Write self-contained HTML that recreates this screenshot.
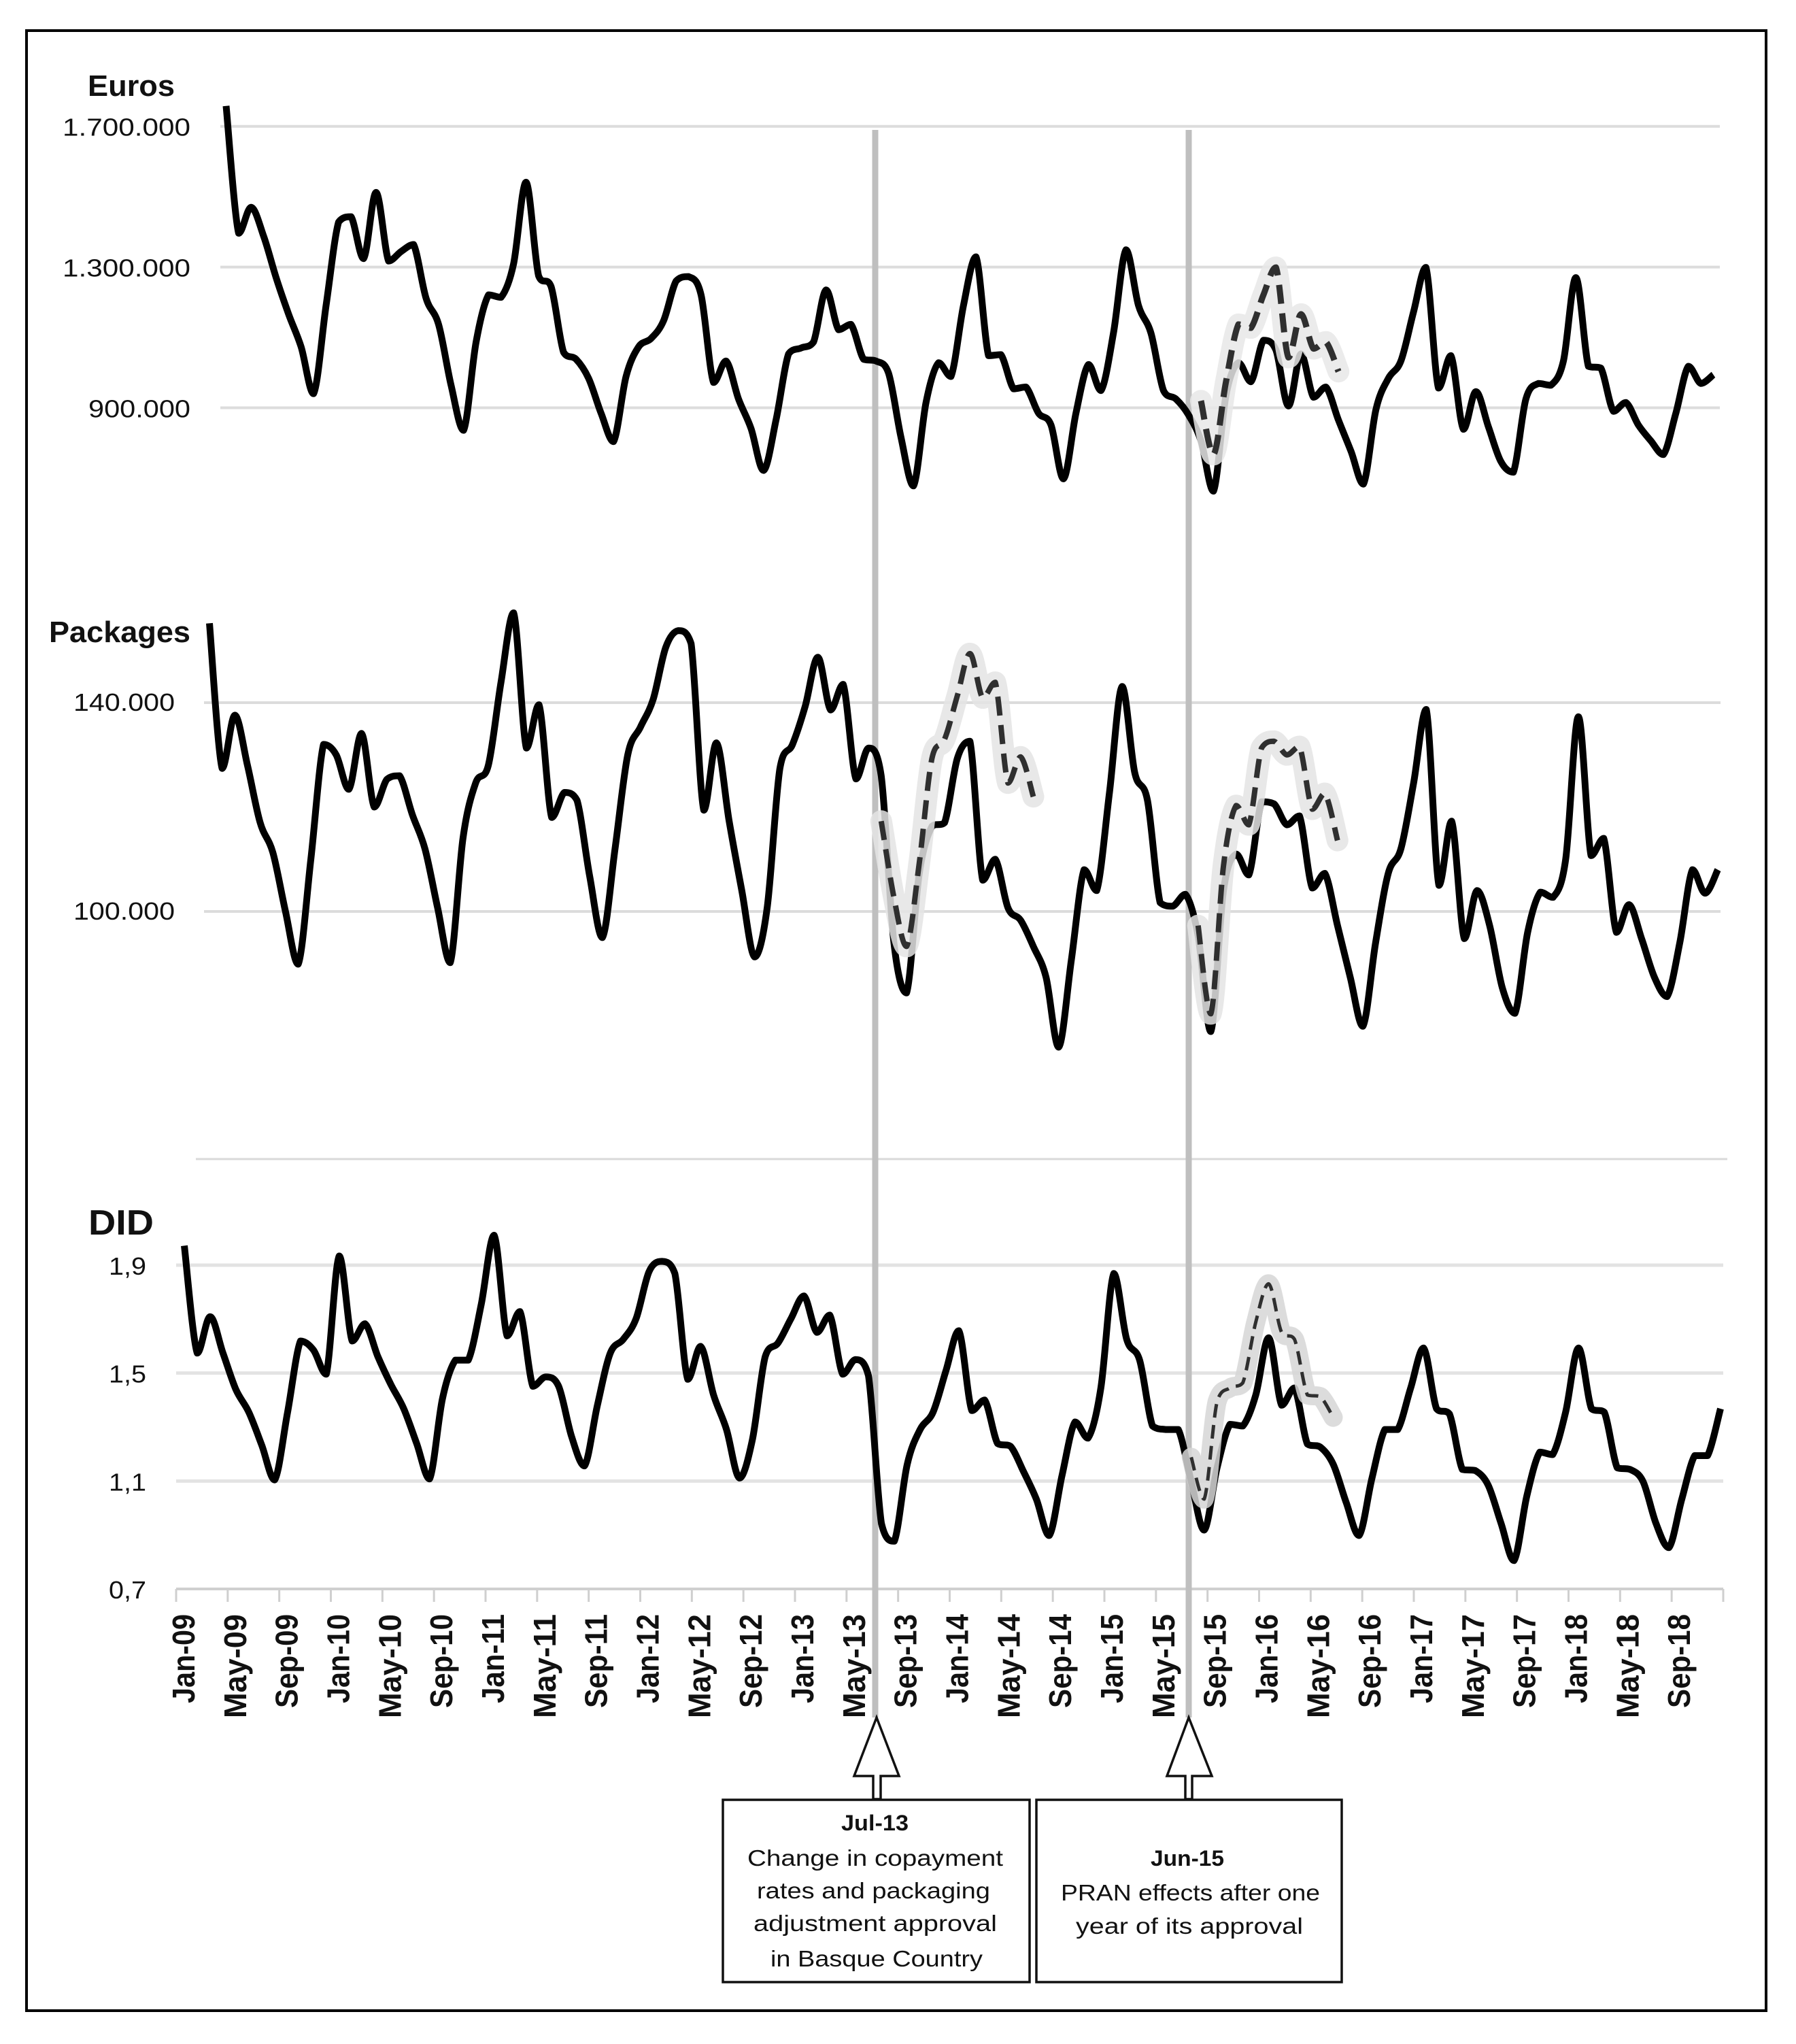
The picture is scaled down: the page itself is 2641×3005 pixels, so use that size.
<!DOCTYPE html>
<html lang="en">
<head>
<meta charset="utf-8">
<title>Euros, packages and DID monthly series, 2009-2018</title>
<style>
html,body{margin:0;padding:0;background:#fff;}
svg{display:block;}
text{font-family:"Liberation Sans",sans-serif;fill:#111;}
</style>
</head>
<body>
<svg id="chart" xmlns="http://www.w3.org/2000/svg" width="2641" height="3005" viewBox="0 0 2641 3005">
  <rect x="0" y="0" width="2641" height="3005" fill="#fff"/>
  <rect x="39" y="45" width="2558" height="2911" fill="none" stroke="#000" stroke-width="4"/>
  <g id="grid"></g>
  <line x1="288" y1="1704" x2="2540" y2="1704" stroke="#d9d9d9" stroke-width="3"/>
  <rect x="1282.5" y="191" width="9" height="2334" fill="#bfbfbf"/>
  <rect x="1743.5" y="191" width="9" height="2334" fill="#bfbfbf"/>
  <g id="series"></g>
  <g id="ylabels"></g>
  <g id="xaxis"></g>

  <text x="129" y="141" font-size="44" font-weight="700" textLength="128" lengthAdjust="spacingAndGlyphs">Euros</text>
  <text x="72" y="944" font-size="44" font-weight="700" textLength="208" lengthAdjust="spacingAndGlyphs">Packages</text>
  <text x="130" y="1815" font-size="52" font-weight="700" textLength="96" lengthAdjust="spacingAndGlyphs">DID</text>

  <path d="M1289 2525 L1322 2611 L1295 2611 L1295 2645 L1284 2645 L1284 2611 L1256 2611 Z" fill="#fff" stroke="#111" stroke-width="3.5" stroke-linejoin="miter"/>
  <path d="M1748 2525 L1782 2611 L1753 2611 L1753 2645 L1743 2645 L1743 2611 L1716 2611 Z" fill="#fff" stroke="#111" stroke-width="3.5" stroke-linejoin="miter"/>

  <g>
    <rect x="1063" y="2646" width="451" height="268" fill="#fff" stroke="#111" stroke-width="3.5"/>
    <text x="1237" y="2691" font-size="32" font-weight="700" textLength="99" lengthAdjust="spacingAndGlyphs">Jul-13</text>
    <text x="1099" y="2743" font-size="33" textLength="376" lengthAdjust="spacingAndGlyphs">Change in copayment</text>
    <text x="1113" y="2791" font-size="33" textLength="343" lengthAdjust="spacingAndGlyphs">rates and packaging</text>
    <text x="1108" y="2839" font-size="33" textLength="358" lengthAdjust="spacingAndGlyphs">adjustment approval</text>
    <text x="1133" y="2891" font-size="33" textLength="312" lengthAdjust="spacingAndGlyphs">in Basque Country</text>
  </g>
  <g>
    <rect x="1524" y="2646" width="449" height="268" fill="#fff" stroke="#111" stroke-width="3.5"/>
    <text x="1692" y="2743" font-size="32" font-weight="700" textLength="108" lengthAdjust="spacingAndGlyphs">Jun-15</text>
    <text x="1560" y="2794" font-size="33" textLength="381" lengthAdjust="spacingAndGlyphs">PRAN effects after one</text>
    <text x="1582" y="2843" font-size="33" textLength="334" lengthAdjust="spacingAndGlyphs">year of its approval</text>
  </g>
</svg>
<script>
// Monthly values, Jan-09 to Dec-18 (euros in thousands, packages in thousands, DID as read)
const euros = [
1758,1396,1470,1388,1270,1166,1073,940,1191,1428,1443,1324,
1512,1317,1344,1364,1211,1137,964,836,1087,1221,1214,1309,
1541,1275,1245,1058,1038,984,885,804,989,1073,1097,1147,
1260,1273,1221,972,1033,925,841,722,865,1053,1070,1087,
1235,1122,1137,1038,1033,999,816,678,915,1028,989,1191,
1329,1048,1051,954,959,885,851,698,885,1023,949,1112,
1349,1191,1112,949,925,880,806,663,935,1028,974,1092,
1064,905,1053,930,959,865,777,683,895,984,1033,1171,
1299,956,1048,839,946,846,747,717,925,969,964,1033,
1270,1018,1013,890,915,851,806,767,885,1018,969,994];
const packages = [
155.2,127.4,137.6,128.0,117.0,111.3,100.0,89.9,110.0,132.0,130.0,123.4,
134.1,120.0,125.3,126.0,118.6,112.0,100.7,90.2,114.0,124.6,128.0,143.9,
157.2,131.3,139.6,118.0,122.8,121.3,106.7,95.0,112.0,130.0,135.3,140.6,
150.6,153.8,151.3,119.4,132.3,117.3,104.0,91.3,100.7,127.3,132.0,139.3,
148.7,138.6,143.5,125.4,131.3,126.0,94.0,84.4,107.3,116.3,117.0,129.3,
132.6,106.0,110.0,100.7,98.3,93.3,87.4,74.0,90.7,108.0,104.0,122.6,
143.1,126.6,121.3,101.7,101.0,103.3,95.3,77.0,104.0,111.0,107.0,121.0,
120.6,116.6,118.3,104.5,107.3,97.3,87.4,78.0,94.0,107.3,112.0,124.6,
138.7,105.0,117.3,94.8,104.0,97.3,85.4,80.5,96.0,103.7,102.7,110.0,
137.3,110.7,114.0,96.0,101.3,94.7,87.4,83.7,94.0,108.0,103.5,108.0];
const did = [
1.972,1.574,1.709,1.574,1.439,1.355,1.233,1.104,1.355,1.619,1.586,1.496,
1.934,1.619,1.683,1.561,1.458,1.368,1.239,1.108,1.406,1.548,1.548,1.754,
2.011,1.638,1.728,1.451,1.486,1.451,1.265,1.156,1.381,1.574,1.625,1.702,
1.876,1.914,1.869,1.477,1.599,1.419,1.291,1.111,1.252,1.561,1.612,1.702,
1.786,1.651,1.715,1.496,1.550,1.490,0.943,0.877,1.162,1.291,1.355,1.509,
1.657,1.361,1.400,1.239,1.229,1.136,1.033,0.898,1.123,1.319,1.259,1.445,
1.869,1.625,1.548,1.304,1.291,1.291,1.098,0.918,1.149,1.310,1.304,1.419,
1.631,1.381,1.445,1.237,1.226,1.162,1.021,0.898,1.111,1.291,1.291,1.445,
1.593,1.368,1.349,1.143,1.139,1.085,0.943,0.805,1.046,1.207,1.198,1.355,
1.593,1.368,1.355,1.149,1.143,1.098,0.943,0.853,1.033,1.194,1.194,1.368];

// Dashed expected series: values plus the month index where each begins
const eurosExpected2015 = [920,767,974,1137,1127,1221,1299,1043,1166,1068,1087,1003];
const eurosExpected2015Start = 78;
const packagesExpected2013 = [117.3,102.7,93.3,109.3,129.3,133.0,141.3,149.4,140.9,143.9,124.6,129.6,122.0];
const packagesExpected2013Start = 53;
const packagesExpected2015 = [97.3,80.4,108.7,120.3,116.6,131.3,132.6,130.0,131.6,119.6,122.6,113.6];
const packagesExpected2015Start = 78;
const didExpected2015 = [1.188,1.033,1.394,1.445,1.464,1.689,1.831,1.651,1.625,1.419,1.413,1.336];
const didExpected2015Start = 78;

// Tick values and labels
const euroTicks = [1700,1300,900];
const euroTickLabels = ["1.700.000","1.300.000","900.000"];
const packageTicks = [140,100];
const packageTickLabels = ["140.000","100.000"];
const didTicks = [1.9,1.5,1.1,0.7];
const didTickLabels = ["1,9","1,5","1,1","0,7"];
const monthLabels = ["Jan-09","May-09","Sep-09","Jan-10","May-10","Sep-10","Jan-11","May-11","Sep-11","Jan-12","May-12","Sep-12","Jan-13","May-13","Sep-13","Jan-14","May-14","Sep-14","Jan-15","May-15","Sep-15","Jan-16","May-16","Sep-16","Jan-17","May-17","Sep-17","Jan-18","May-18","Sep-18"];

const NS = "http://www.w3.org/2000/svg";
function el(parent, tag, attrs, txt){
  const e = document.createElementNS(NS, tag);
  for (const k in attrs) e.setAttribute(k, attrs[k]);
  if (txt !== undefined) e.textContent = txt;
  parent.appendChild(e);
  return e;
}
function linear(v0, p0, v1, p1){ return v => p0 + (v - v0) * (p1 - p0) / (v1 - v0); }

const xE = linear(0, 332.5, 119, 2519.5);
const xP = linear(0, 308, 119, 2526);
const xD = linear(0, 271, 119, 2530);
const yE = linear(1700, 185.7, 900, 599.5);
const yP = linear(140, 1033, 100, 1340);
const yD = linear(1.9, 1860, 0.7, 2336);
const xTick = linear(0, 259, 30, 2534);

function clampTo(v, a, b){ return Math.max(Math.min(a, b), Math.min(Math.max(a, b), v)); }
function smoothPath(values, start, xf, yf){
  const p = values.map((v, i) => [xf(i + start), yf(v)]);
  let d = "M" + p[0][0].toFixed(1) + " " + p[0][1].toFixed(1);
  for (let i = 0; i < p.length - 1; i++){
    const a = p[Math.max(0, i - 1)], b = p[i], c = p[i + 1], e = p[Math.min(p.length - 1, i + 2)];
    const c1x = b[0] + (c[0] - a[0]) / 6, c1y = clampTo(b[1] + (c[1] - a[1]) / 6, b[1], c[1]);
    const c2x = c[0] - (e[0] - b[0]) / 6, c2y = clampTo(c[1] - (e[1] - b[1]) / 6, b[1], c[1]);
    d += "C" + c1x.toFixed(1) + " " + c1y.toFixed(1) + " " + c2x.toFixed(1) + " " + c2y.toFixed(1) + " " + c[0].toFixed(1) + " " + c[1].toFixed(1);
  }
  return d;
}

const grid = document.getElementById("grid");
const series = document.getElementById("series");
const ylabels = document.getElementById("ylabels");
const xaxis = document.getElementById("xaxis");

euroTicks.forEach(t => {
  const g = el(grid, "line", {x1:324, x2:2529, y1:yE(t), y2:yE(t), stroke:"#dcdcdc", "stroke-width":4});
  
  
});
packageTicks.forEach(t => {
  const g = el(grid, "line", {x1:300, x2:2530, y1:yP(t), y2:yP(t), stroke:"#dcdcdc", "stroke-width":4});
  
  
});
didTicks.forEach(t => {
  const g = el(grid, "line", {x1:259, x2:2534, y1:yD(t), y2:yD(t), stroke: t === 0.7 ? "#cfcfcf" : "#e3e3e3", "stroke-width": t === 0.7 ? 4 : 5});
  
  
});

function yLabel(label, right, width, baseline){
  const t = el(ylabels, "text", {x:right - width, y:baseline, "font-size":36, textLength:width, lengthAdjust:"spacingAndGlyphs"}, label);
  
  
}
euroTickLabels.forEach((l, i) => yLabel(l, 280, l.length > 7 ? 188 : 150, yE(euroTicks[i]) + 14));
packageTickLabels.forEach((l, i) => yLabel(l, 257, 149, yP(packageTicks[i]) + 12));
didTickLabels.forEach((l, i) => yLabel(l, 215, 55, yD(didTicks[i]) + 14));

for (let k = 0; k <= monthLabels.length; k++){
  const m = el(xaxis, "line", {x1:xTick(k), x2:xTick(k), y1:2336, y2:2355, stroke:"#cfcfcf", "stroke-width":3});
  
  
}
monthLabels.forEach((l, k) => {
  const bx = xTick(k) + 27;
  const len = l.startsWith("May") ? 153 : l.startsWith("Sep") ? 138 : 131;
  const t = el(xaxis, "text", {x:0, y:0, "font-size":46, "font-weight":700, "text-anchor":"end", textLength:len, lengthAdjust:"spacingAndGlyphs", transform:"translate(" + bx.toFixed(1) + " 2373) rotate(-90)"}, l);
  
  
});

function mainLine(values, xf, yf, name){
  const p = el(series, "path", {d:smoothPath(values, 0, xf, yf), fill:"none", stroke:"#000", "stroke-width":10, "stroke-linejoin":"round", "stroke-linecap":"butt"});
  
  
}
function dashedLine(values, start, xf, yf, haloColor, haloWidth, dashWidth, dash, name){
  const h = el(series, "path", {d:smoothPath(values, start, xf, yf), fill:"none", stroke:haloColor, "stroke-opacity":0.85, "stroke-width":haloWidth, "stroke-linejoin":"round", "stroke-linecap":"round"});
  
  
  const p = el(series, "path", {d:smoothPath(values, start, xf, yf), fill:"none", stroke:"#2f2f2f", "stroke-width":dashWidth, "stroke-dasharray":dash, "stroke-linejoin":"round"});
  
  
}
mainLine(euros, xE, yE, 'euros-line');
mainLine(packages, xP, yP, 'packages-line');
mainLine(did, xD, yD, 'did-line');
dashedLine(eurosExpected2015, eurosExpected2015Start, xE, yE, "#e8e8e8", 32, 9, "28 14", 'euros-expected-2015');
dashedLine(packagesExpected2013, packagesExpected2013Start, xP, yP, "#e4e4e4", 32, 8, "28 14", 'packages-expected-2013');
dashedLine(packagesExpected2015, packagesExpected2015Start, xP, yP, "#e4e4e4", 32, 8, "28 14", 'packages-expected-2015');
dashedLine(didExpected2015, didExpected2015Start, xD, yD, "#d6d6d6", 28, 5, "20 11", 'did-expected-2015');
</script>
</body>
</html>
